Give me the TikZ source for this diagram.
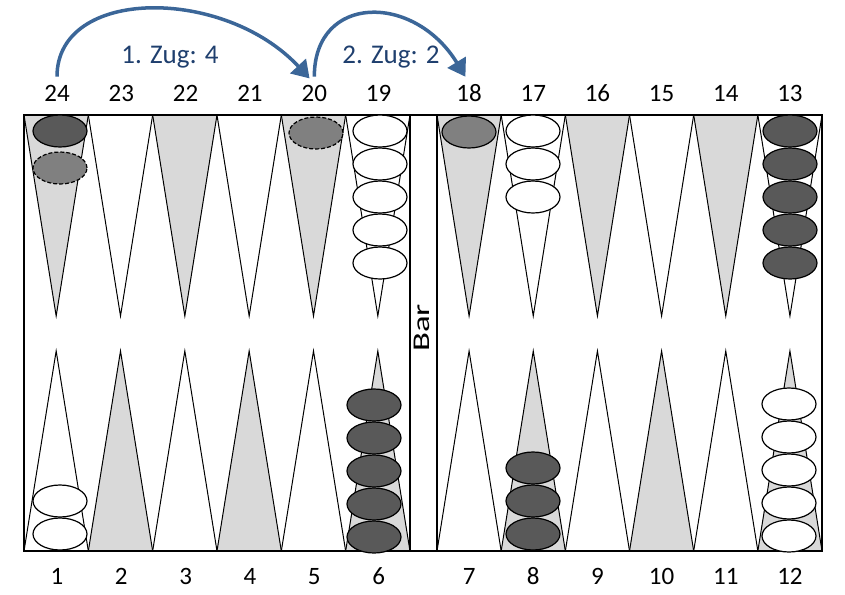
\documentclass[tikz,border=0pt]{standalone}
\usepackage{fontspec}
\usepackage{graphicx}
\setmainfont{Carlito}
\usetikzlibrary{arrows.meta,shapes.geometric}
\definecolor{field}{HTML}{D9D9D9}
\definecolor{darkstone}{HTML}{595959}
\definecolor{midstone}{HTML}{808080}
\definecolor{movecol}{HTML}{3B6698}
\definecolor{movetext}{HTML}{1F3F6E}
\tikzset{
    point label/.style = {
        font=\fontsize{25}{28}\selectfont,
        inner sep=1pt,
        anchor=base,
        },
    stone/.style = {
        draw, ellipse,
        line width=1.2pt,
        minimum width=54pt,
        minimum height=32pt,
        inner sep=0pt,
        },
    dark stone/.style = {
        stone,
        fill = darkstone,
        },
    white stone/.style = {
        stone,
        fill = white,
        },
    ghost stone/.style = {
        stone,
        fill = midstone,
        dash pattern=on 4pt off 2pt,
        },
    moved stone/.style = {
        stone,
        fill = midstone,
        },
    move/.style = {
        draw=movecol,
        line width=3.5pt,
        shorten <=7pt, shorten >=7pt,
        -{Triangle[length=17pt,width=21pt]},
        },
    move label/.style = {
        text = movetext,
        font=\fontsize{27}{30}\selectfont,
        },
    field edge/.style = {
        line width=1pt,
        },
}
\begin{document}
\begin{tikzpicture}[x=1pt,y=-1pt]
            \useasboundingbox (0,0) rectangle (845,594);

            % points
            \foreach \i/\f in {0/field,1/white,2/field,3/white,4/field,5/white} {
                \filldraw[field edge, fill=\f] (24+64.33*\i,115) -- (56.17+64.33*\i,316) -- (88.33+64.33*\i,115) -- cycle;
                \filldraw[field edge, fill=\f] (437+64.17*\i,115) -- (469.08+64.17*\i,316) -- (501.17+64.17*\i,115) -- cycle;
            }
            \foreach \i/\f in {0/white,1/field,2/white,3/field,4/white,5/field} {
                \filldraw[field edge, fill=\f] (24+64.33*\i,551) -- (56.17+64.33*\i,351) -- (88.33+64.33*\i,551) -- cycle;
                \filldraw[field edge, fill=\f] (437+64.17*\i,551) -- (469.08+64.17*\i,351) -- (501.17+64.17*\i,551) -- cycle;
            }
            \draw[line width=1.6pt] (24,115) rectangle (822,551);
            \draw[line width=1.6pt] (410,115) -- (410,551) (437,115) -- (437,551);
            \node[font=\fontsize{24}{26}\selectfont, inner sep=1pt, rotate=90] (bar) at (421.5,328) {\scalebox{1.45}[1]{Bar}};

            % numbers
            \foreach \i in {0,...,5} {
                \pgfmathtruncatemacro{\a}{24-\i}
                \pgfmathtruncatemacro{\b}{18-\i}
                \pgfmathtruncatemacro{\c}{1+\i}
                \pgfmathtruncatemacro{\d}{7+\i}
                \node[point label] (p\a) at (57+64.33*\i,101) {\a};
                \node[point label] (p\b) at (469.08+64.17*\i,101) {\b};
                \node[point label] (p\c) at (57+64.33*\i,584) {\c};
                \node[point label] (p\d) at (469.08+64.17*\i,584) {\d};
            }

            % stones
            \node[dark stone] (s24) at (60,131) {};
            \node[ghost stone] (g24) at (60,168) {};
            \node[ghost stone] (g20) at (316,133) {};
            \foreach \k in {0,...,4} \node[white stone] (s19-\k) at (380,131+33*\k) {};
            \node[moved stone] (s18) at (469,132) {};
            \foreach \k in {0,1,2} \node[white stone] (s17-\k) at (533,131+33*\k) {};
            \foreach \k in {0,...,4} \node[dark stone] (s13-\k) at (790,131+33*\k) {};
            \foreach \k in {0,1} \node[white stone] (s1-\k) at (60,534-33*\k) {};
            \foreach \k in {0,...,4} \node[dark stone] (s6-\k) at (374,537-33*\k) {};
            \foreach \k in {0,1,2} \node[dark stone] (s8-\k) at (533,534-33*\k) {};
            \foreach \k in {0,...,4} \node[white stone] (s12-\k) at (789,536-33*\k) {};

            % moves
            \draw[move] (p24.north) .. controls +(0,-97) and +(-90,-97) .. (p20.north);
            \draw[move] (p20.north) .. controls +(0,-90) and +(-55,-90) .. (p18.north);
            \node[move label] (m1) at (170,57) {1. Zug: 4};
            \node[move label] (m2) at (391,57) {2. Zug: 2};
        \end{tikzpicture}
\end{document}
